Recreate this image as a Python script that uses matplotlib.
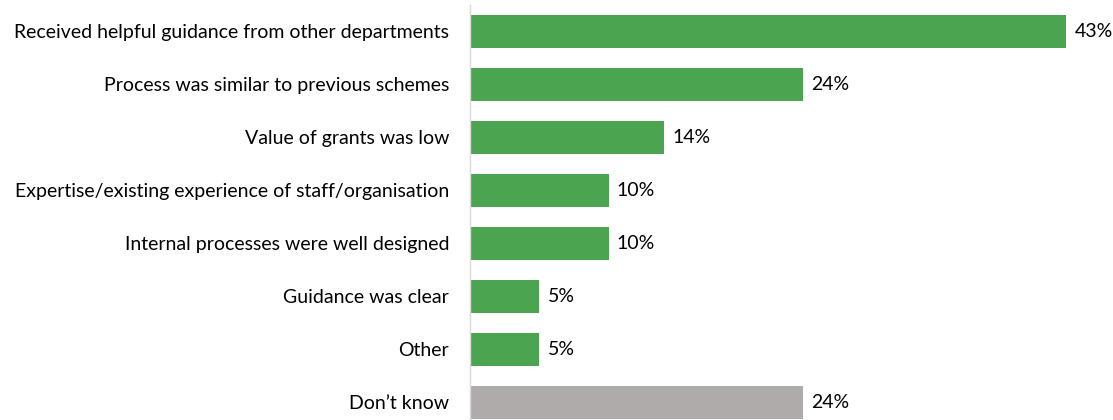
import matplotlib.pyplot as plt

# Reasons given, top to bottom, with share of respondents (%)
categories = [
    "Received helpful guidance from other departments",
    "Process was similar to previous schemes",
    "Value of grants was low",
    "Expertise/existing experience of staff/organisation",
    "Internal processes were well designed",
    "Guidance was clear",
    "Other",
    "Don\u2019t know",
]
values = [43, 24, 14, 10, 10, 5, 5, 24]
bar_colors = ["#4AA450"] * 7 + ["#AFABAB"]

plt.rcParams['font.family'] = ['Lato', 'DejaVu Sans']

fig = plt.figure(figsize=(11.13, 4.2), dpi=100)
ax = fig.add_axes([0.4223, -0.0214, 0.5355, 1.0095])

pos = list(range(len(categories)))
bars = ax.barh(pos, values, height=0.61, color=bar_colors)

for b, v in zip(bars, values):
    ax.text(b.get_width() + 0.6, b.get_y() + b.get_height() / 2, f"{v}%",
            va='center', ha='left', fontsize=14, color='#000000', clip_on=False)

ax.set_xlim(0, 43)
ax.set_ylim(len(categories) - 0.5, -0.5)
ax.set_yticks(pos)
ax.set_yticklabels(categories, fontsize=14)
ax.tick_params(axis='y', length=0, pad=15)
ax.set_xticks([])

for side in ['top', 'right', 'bottom']:
    ax.spines[side].set_visible(False)
ax.spines['left'].set_color('#D9D9D9')
ax.spines['left'].set_linewidth(1)

fig.savefig("out.png", dpi=100)
